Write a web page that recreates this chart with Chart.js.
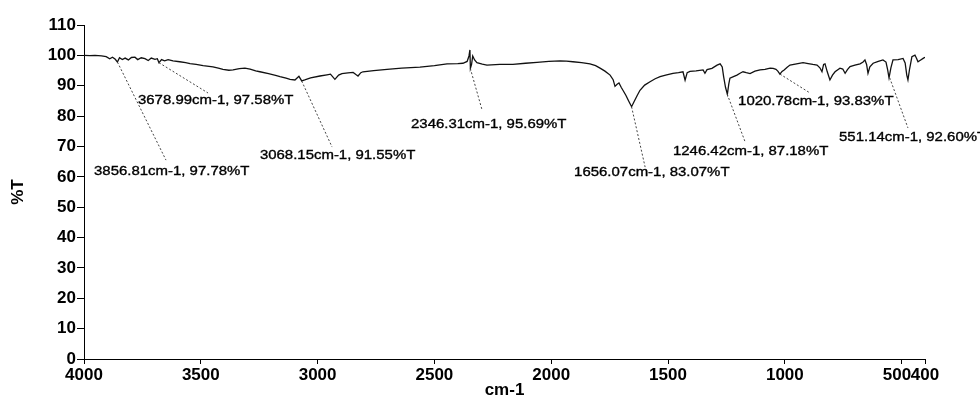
<!DOCTYPE html>
<html>
<head>
<meta charset="utf-8">
<script src="https://cdn.jsdelivr.net/npm/chart.js@4/dist/chart.umd.min.js"></script>
<style>
  html, body { margin: 0; padding: 0; background: #fff; }
  #wrap { width: 980px; height: 399px; position: relative; }
</style>
</head>
<body>
<div id="wrap"><canvas id="ir-chart"></canvas></div>
<script>
// IR spectrum: wavenumber (cm-1) and %T
var wavenumbers = [4000, 3975, 3953, 3925, 3905, 3890, 3878, 3866, 3857, 3848, 3836, 3824, 3810, 3797, 3782, 3770, 3755, 3739, 3725, 3712,
  3696, 3686, 3679, 3668, 3655, 3640, 3619, 3590, 3565, 3546, 3520, 3490, 3448, 3425, 3405, 3380, 3362, 3335, 3311, 3289,
  3265, 3247, 3210, 3180, 3161, 3135, 3118, 3097, 3080, 3068, 3055, 3030, 2990, 2960, 2945, 2926, 2910, 2896, 2870, 2848,
  2836, 2827, 2815, 2806, 2760, 2703, 2640, 2562, 2500, 2446, 2400, 2378, 2360, 2352, 2348, 2346, 2341, 2336, 2328, 2318,
  2295, 2275, 2220, 2164, 2110, 2061, 2010, 1962, 1935, 1907, 1870, 1834, 1810, 1791, 1770, 1748, 1735, 1727, 1718, 1710,
  1700, 1693, 1680, 1668, 1656, 1645, 1632, 1620, 1600, 1577, 1555, 1534, 1510, 1479, 1455, 1436, 1427, 1418, 1406, 1380,
  1350, 1342, 1333, 1312, 1290, 1277, 1268, 1262, 1254, 1246, 1240, 1235, 1220, 1205, 1190, 1179, 1165, 1149, 1128, 1106,
  1085, 1063, 1050, 1038, 1030, 1021, 1012, 1003, 990, 978, 950, 922, 900, 880, 862, 850, 841, 834, 828, 818,
  807, 796, 785, 764, 752, 742, 732, 721, 700, 678, 665, 657, 650, 644, 636, 622, 600, 580, 567, 560,
  554, 546, 537, 515, 494, 485, 478, 473, 466, 456, 443, 436, 430, 420, 408, 400];
var transmittance = [100.0, 99.9, 100.0, 99.8, 99.6, 98.9, 99.4, 98.7, 97.8, 99.2, 98.6, 99.1, 98.5, 99.3, 99.4, 98.6, 99.2, 98.9, 98.3, 99.1,
  98.7, 98.9, 97.6, 98.6, 98.2, 98.6, 98.2, 97.9, 97.6, 97.3, 97.0, 96.6, 96.2, 95.8, 95.4, 95.1, 95.2, 95.6, 95.8, 95.5,
  94.9, 94.6, 94.0, 93.4, 93.0, 92.5, 92.1, 91.9, 93.1, 91.6, 91.9, 92.6, 93.2, 93.6, 93.8, 92.1, 93.5, 94.0, 94.2, 94.4,
  93.7, 93.2, 94.3, 94.6, 95.0, 95.4, 95.8, 96.1, 96.6, 97.2, 97.3, 97.4, 98.0, 99.8, 101.8, 95.7, 97.0, 99.8, 98.5, 97.6,
  97.1, 96.8, 97.0, 97.0, 97.4, 97.7, 98.0, 98.2, 98.1, 97.9, 97.6, 97.2, 96.6, 95.8, 94.8, 93.5, 92.0, 89.8, 90.5, 90.9,
  89.4, 88.5, 86.8, 84.9, 83.1, 84.8, 86.8, 88.5, 90.2, 91.3, 92.3, 93.0, 93.5, 94.1, 94.3, 94.6, 91.8, 94.3, 94.7, 94.9,
  95.2, 94.1, 95.3, 95.7, 96.8, 97.2, 96.2, 93.0, 89.5, 87.2, 90.5, 92.5, 93.0, 93.5, 94.2, 94.6, 94.3, 94.0, 94.8, 95.2,
  95.4, 95.8, 95.7, 95.4, 94.8, 93.8, 94.7, 95.2, 96.1, 96.8, 97.2, 97.6, 97.3, 97.0, 96.8, 95.9, 94.6, 97.0, 97.2, 94.5,
  91.9, 93.5, 94.6, 95.8, 95.5, 94.1, 95.3, 96.3, 96.8, 97.2, 97.8, 98.5, 97.0, 94.1, 96.2, 97.4, 98.0, 98.5, 97.8, 95.3,
  92.6, 95.9, 98.5, 98.6, 99.0, 97.5, 93.5, 91.9, 95.5, 99.6, 100.1, 99.0, 97.9, 98.4, 99.0, 99.4];

// labelled peaks
var peakWn = [3856.81, 3678.99, 3068.15, 2346.31, 1656.07, 1246.42, 1020.78, 551.14];
var peakT = [97.78, 97.58, 91.55, 95.69, 83.07, 87.18, 93.83, 92.60];

var xTicks = [4000, 3500, 3000, 2500, 2000, 1500, 1000, 500, 400];
var yTicks = [0, 10, 20, 30, 40, 50, 60, 70, 80, 90, 100, 110];

// where each peak label goes, in axis units:
// [text left wn, text middle %T, leader end wn, leader end %T]
var labelSpots = [
  [3957, 61.9, 3649, 65.5],
  [3769, 85.3, 3469, 87.6],
  [3247, 67.2, 2938, 69.8],
  [2600, 77.1, 2296, 82.0],
  [1902, 61.3, 1598, 63.2],
  [1479, 68.5, 1170, 71.5],
  [1200, 84.7, 892, 87.6],
  [768, 73.1, 473, 76.1]
];

var points = wavenumbers.map(function (w, i) { return { x: w, y: transmittance[i] }; });

var FONT = 'Arial, "Liberation Sans", sans-serif';

// leader lines + peak text
var peakLabels = {
  id: 'peakLabels',
  afterDatasetsDraw: function (chart) {
    var xs = chart.scales.x, ys = chart.scales.y, ctx = chart.ctx;
    ctx.save();
    ctx.strokeStyle = '#444';
    ctx.lineWidth = 1;
    ctx.setLineDash([2, 2]);
    peakWn.forEach(function (w, i) {
      var s = labelSpots[i];
      ctx.beginPath();
      ctx.moveTo(xs.getPixelForValue(w), ys.getPixelForValue(peakT[i]));
      ctx.lineTo(xs.getPixelForValue(s[2]), ys.getPixelForValue(s[3]));
      ctx.stroke();
    });
    ctx.setLineDash([]);
    ctx.fillStyle = '#000';
    ctx.strokeStyle = '#000';
    ctx.lineWidth = 0.35;
    ctx.font = '13px ' + FONT;
    ctx.textAlign = 'left';
    ctx.textBaseline = 'middle';
    peakWn.forEach(function (w, i) {
      var s = labelSpots[i];
      var txt = w.toFixed(2) + 'cm-1, ' + peakT[i].toFixed(2) + '%T';
      ctx.save();
      ctx.translate(xs.getPixelForValue(s[0]), ys.getPixelForValue(s[1]));
      ctx.scale(1.15, 1);   // scan is a bit stretched sideways
      ctx.fillText(txt, 0, 0);
      ctx.strokeText(txt, 0, 0);
      ctx.restore();
    });
    ctx.restore();
  }
};

new Chart(document.getElementById('ir-chart'), {
  type: 'line',
  data: {
    datasets: [{
      data: points,
      borderColor: '#111',
      borderWidth: 1.3,
      pointRadius: 0,
      tension: 0,
      fill: false
    }]
  },
  options: {
    responsive: true,
    maintainAspectRatio: false,
    devicePixelRatio: 1,
    animation: false,
    layout: { padding: { top: 25, right: 55, bottom: 0, left: 0 } },
    plugins: { legend: { display: false }, tooltip: { enabled: false } },
    scales: {
      x: {
        type: 'linear',
        reverse: true,
        min: 400,
        max: 4000,
        afterBuildTicks: function (scale) { scale.ticks = xTicks.map(function (v) { return { value: v }; }); },
        afterFit: function (scale) { scale.height = 40; },
        border: { display: true, color: '#000', width: 1 },
        grid: { drawOnChartArea: false, drawTicks: true, tickLength: 5, color: '#000' },
        ticks: {
          autoSkip: false, maxRotation: 0, padding: 1, color: '#000',
          font: { family: FONT, size: 17, weight: 'bold' },
          // 500 sits right next to 400, nudge it left like the original
          callback: function (v) { return v === 500 ? '500  ' : String(v); }
        },
        title: {
          display: true, text: 'cm-1', color: '#000',
          font: { family: FONT, size: 17, weight: 'bold', lineHeight: 1 },
          padding: { top: 0, bottom: 0 }
        }
      },
      y: {
        min: 0,
        max: 110,
        afterBuildTicks: function (scale) { scale.ticks = yTicks.map(function (v) { return { value: v }; }); },
        afterFit: function (scale) { scale.width = 84; },
        border: { display: true, color: '#000', width: 1 },
        grid: { drawOnChartArea: false, drawTicks: true, tickLength: 7, color: '#000' },
        ticks: {
          padding: 1, color: '#000',
          font: { family: FONT, size: 17, weight: 'bold' },
          callback: function (v) { return String(v); }
        },
        title: {
          display: true, text: '%T', color: '#000',
          font: { family: FONT, size: 17, weight: 'bold', lineHeight: 1 },
          padding: { top: 10, bottom: 0 }
        }
      }
    }
  },
  plugins: [peakLabels]
});
</script>
</body>
</html>
